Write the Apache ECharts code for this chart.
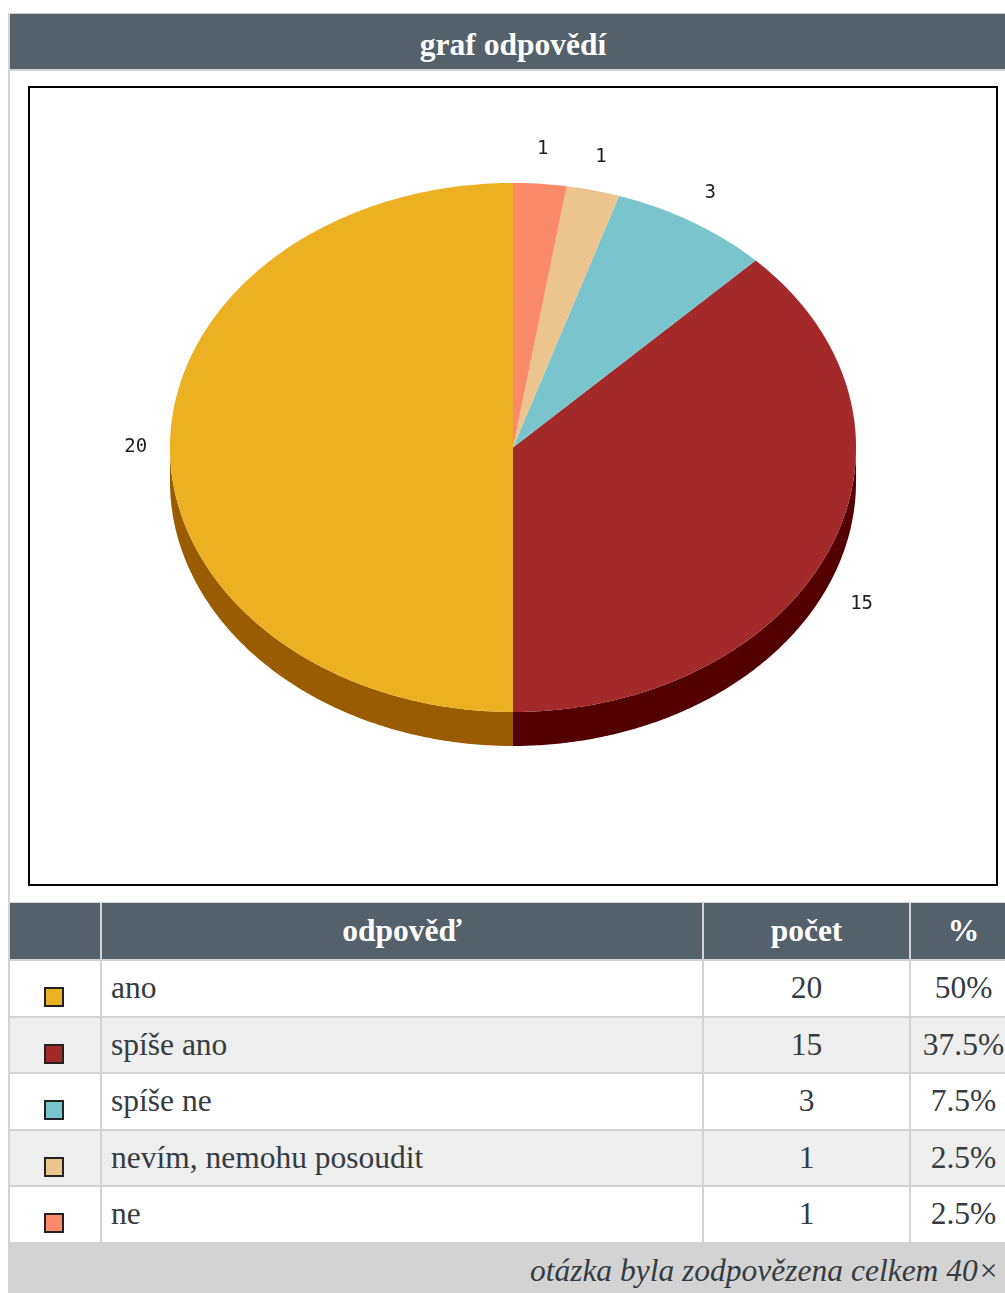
<!DOCTYPE html>
<html lang="cs">
<head>
<meta charset="utf-8">
<title>graf odpovědí</title>
<script src="https://cdn.jsdelivr.net/npm/echarts@6/dist/echarts.min.js"></script>
<style>
  html, body { margin: 0; padding: 0; }
  body {
    width: 1005px; height: 1293px; overflow: hidden; position: relative;
    background: #fff; font-family: "Liberation Serif", "Times New Roman", serif;
  }
  .abs { position: absolute; box-sizing: border-box; }
  .gray { background: #d3d3d3; }
  .head { background: #55616a; color: #fff; font-weight: bold; font-size: 31.5px; text-align: center; white-space: nowrap; }
  .cell { color: #353b40; font-size: 31.5px; white-space: nowrap; }
  #box { left: 28px; top: 86px; width: 970px; height: 800px; border: 2px solid #000; background: #fff; }
  #pie { left: 30px; top: 88px; width: 966px; height: 796px; }
</style>
</head>
<body>
<div id="page"></div>
<div id="box" class="abs"></div>
<div id="pie" class="abs"></div>
<script>
// answers and their counts
const categories = ['ano', 'spíše ano', 'spíše ne', 'nevím, nemohu posoudit', 'ne'];
const counts = [20, 15, 3, 1, 1];
const title = 'graf odpovědí';
const columnTitles = ['odpověď', 'počet', '%'];
const footerText = 'otázka byla zodpovězena celkem';

// slice colours: top face and darker side wall
const topColors = ['#ecb122', '#a42a2a', '#7ac4ce', '#ebc48e', '#fb8a6a'];
const sideColors = ['#9a5c00', '#520000', '#3d7c86', '#a07a4a', '#a8502f'];

const total = counts.reduce((a, b) => a + b, 0);

// ---------- page frame and table ----------
const page = document.getElementById('page');
function add(cls, css, text) {
  const d = document.createElement('div');
  d.className = 'abs ' + cls;
  Object.assign(d.style, css);
  if (text !== undefined) d.textContent = text;
  page.appendChild(d);
  return d;
}
// outer frame
add('gray', { left: '8px', top: '13px', width: '1010px', height: '1px' });
add('gray', { left: '8px', top: '13px', width: '2px', height: '1290px' });
// title bar
add('head', { left: '10px', top: '14px', width: '1006px', height: '56px', lineHeight: '61px', overflow: 'hidden' }, title);
add('gray', { left: '10px', top: '69px', width: '1006px', height: '2px' });

// table columns
const cols = [[10, 100], [102, 702], [704, 909], [911, 1016]];
const headTop = 902, headBottom = 959;
add('gray', { left: '10px', top: headTop + 'px', width: '1006px', height: '1px' });
cols.forEach((c, j) => {
  add('head', {
    left: c[0] + 'px', top: (headTop + 1) + 'px', width: (c[1] - c[0]) + 'px',
    height: (headBottom - headTop - 1) + 'px', lineHeight: (headBottom - headTop - 1) + 'px'
  }, j === 0 ? '' : columnTitles[j - 1]);
});
add('gray', { left: '10px', top: headBottom + 'px', width: '1006px', height: '2px' });

const footerTop = 1242;
const pitch = (footerTop - headBottom) / categories.length;
categories.forEach((name, i) => {
  const top = headBottom + 2 + i * pitch;
  const h = pitch - 2;
  add('', { left: '10px', top: top + 'px', width: '1006px', height: h + 'px', background: i % 2 ? '#eeeeee' : '#ffffff' });
  // legend swatch
  add('', { left: '44px', top: (top + 26) + 'px', width: '20px', height: '20px', border: '2px solid #222', background: topColors[i] });
  add('cell', { left: (cols[1][0] + 9) + 'px', top: top + 'px', height: h + 'px', lineHeight: h + 'px' }, name);
  add('cell', { left: cols[2][0] + 'px', top: top + 'px', width: (cols[2][1] - cols[2][0]) + 'px', height: h + 'px', lineHeight: h + 'px', textAlign: 'center' }, String(counts[i]));
  const pct = Math.round(counts[i] / total * 1000) / 10;
  add('cell', { left: cols[3][0] + 'px', top: top + 'px', width: (cols[3][1] - cols[3][0]) + 'px', height: h + 'px', lineHeight: h + 'px', textAlign: 'center' }, pct + '%');
  add('gray', { left: '10px', top: (top + h) + 'px', width: '1006px', height: '2px' });
});
// column separators
[100, 702, 909].forEach(x => {
  add('gray', { left: x + 'px', top: headTop + 'px', width: '2px', height: (footerTop - headTop) + 'px' });
});
// footer
add('cell gray', {
  left: '10px', top: footerTop + 'px', width: '1006px', height: '58px', lineHeight: '58px',
  textAlign: 'right', paddingRight: '17px', fontStyle: 'italic'
}, footerText + ' ' + total + '×');

// ---------- 3D-looking pie ----------
const startAngles = [];
let acc = 0;
counts.forEach(v => { startAngles.push(90 + acc / total * 360); acc += v; });

const chart = echarts.init(document.getElementById('pie'), null, { renderer: 'canvas' });

function renderSlice(params, api) {
  const i = params.dataIndex;
  const v = api.value(0);
  const w = api.getWidth(), h = api.getHeight();
  const cx = w * 0.5, cy = h * 0.4516;
  const rx = w * 0.3551, ry = h * 0.3323, depth = h * 0.0427;
  const a0 = startAngles[i];
  const a1 = a0 + v / total * 360;
  const rad = d => d * Math.PI / 180;
  const pt = (d, dy) => [cx + rx * Math.cos(rad(d)), cy - ry * Math.sin(rad(d)) + (dy || 0)];
  const arc = (from, to, dy) => {
    const n = Math.max(2, Math.ceil((to - from) / 0.5));
    const out = [];
    for (let k = 0; k <= n; k++) out.push(pt(from + (to - from) * k / n, dy));
    return out;
  };
  const children = [];
  // visible side wall: the part of the rim facing the viewer (lower half)
  for (let k = 0; k < 3; k++) {
    const lo = Math.max(a0, 180 + 360 * k), hi = Math.min(a1, 360 + 360 * k);
    if (hi > lo) {
      const upper = arc(lo, hi, 0);
      const lower = arc(lo, hi, depth).reverse();
      children.push({ type: 'polygon', shape: { points: upper.concat(lower) }, style: { fill: sideColors[i] }, silent: true });
    }
  }
  // top face
  children.push({ type: 'polygon', shape: { points: [[cx, cy]].concat(arc(a0, a1, 0)) }, style: { fill: topColors[i] }, silent: true });
  // value label outside the rim
  const m = rad((a0 + a1) / 2);
  const s = Math.sin(m);
  const lx = cx + rx * 1.10 * Math.cos(m);
  const ly = cy - ry * 1.13 * s + (s < -0.01 ? depth * 1.25 : 0);
  children.push({
    type: 'text', silent: true,
    style: {
      text: String(v), x: lx, y: ly,
      align: 'center', verticalAlign: 'middle', textAlign: 'center', textVerticalAlign: 'middle',
      font: '19px "DejaVu Sans Mono", monospace', fill: '#1e1e1e'
    }
  });
  return { type: 'group', children };
}

chart.setOption({
  animation: false,
  series: [{
    type: 'custom',
    coordinateSystem: 'none',
    renderItem: renderSlice,
    data: counts.map((v, i) => ({ value: v, name: categories[i] }))
  }]
});
</script>
</body>
</html>
